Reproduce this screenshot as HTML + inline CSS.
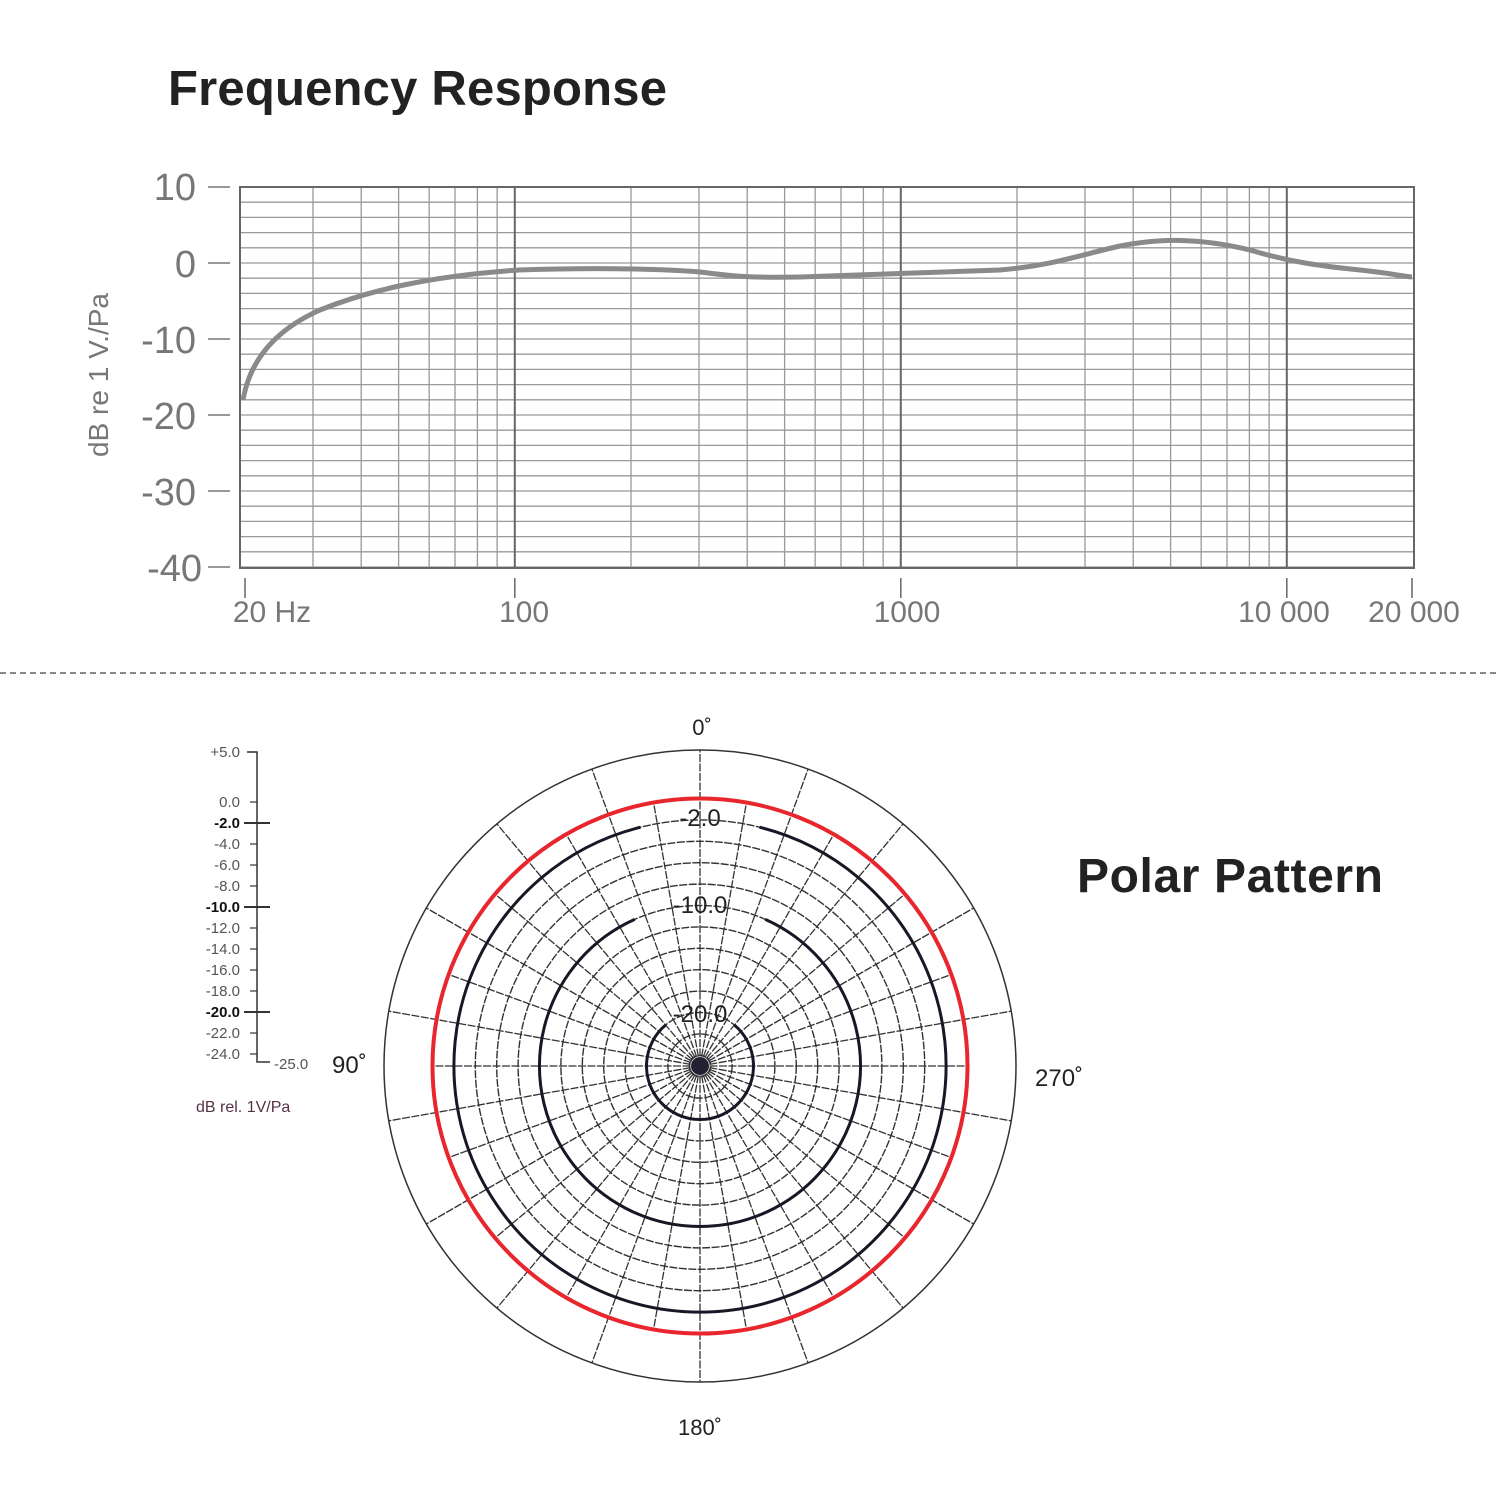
<!DOCTYPE html>
<html><head><meta charset="utf-8"><style>
html,body{margin:0;padding:0;background:#fff;}
svg{display:block}
</style></head><body>
<svg id="s" width="1500" height="1500" xmlns="http://www.w3.org/2000/svg" font-family="Liberation Sans, sans-serif">
<rect width="1500" height="1500" fill="#fff"/>
<text x="168" y="105" font-size="49" font-weight="bold" fill="#222" textLength="499">Frequency Response</text>
<g id="fr"></g>
<g fill="#777" font-size="38" text-anchor="end">
<text x="196" y="200">10</text><text x="196" y="277">0</text><text x="196" y="353">-10</text>
<text x="196" y="429">-20</text><text x="196" y="505">-30</text><text x="202" y="581">-40</text>
</g>
<text transform="translate(108,375) rotate(-90)" font-size="28" fill="#777" text-anchor="middle">dB re 1 V./Pa</text>
<g fill="#777" font-size="30" text-anchor="middle">
<text x="272" y="622">20 Hz</text><text x="524" y="622">100</text><text x="907" y="622">1000</text>
<text x="1284" y="622">10 000</text><text x="1414" y="622">20 000</text>
</g>
<line x1="0" y1="673" x2="1500" y2="673" stroke="#888" stroke-width="2" stroke-dasharray="6,4"/>
<text x="1077" y="892" font-size="48" font-weight="bold" fill="#222" textLength="306">Polar Pattern</text>
<g id="pp"></g>
<g id="sc"></g>
<g font-size="22" fill="#222" text-anchor="middle">
<text x="702" y="735">0˚</text><text x="700" y="1435">180˚</text>
</g>
<text x="1035" y="1086" font-size="24" fill="#222">270˚</text>
<text x="332" y="1073" font-size="24" fill="#222">90˚</text>
<text x="196" y="1112" font-size="16" fill="#534">dB rel. 1V/Pa</text>
</svg>
<script>
var NS="http://www.w3.org/2000/svg";
function el(p,t,a,txt){var e=document.createElementNS(NS,t);for(var k in a)e.setAttribute(k,a[k]);if(txt)e.textContent=txt;p.appendChild(e);return e;}
var fr=document.getElementById('fr');
var X0=245,D=386;function fx(f){return X0+Math.log10(f/20)*D;}
for(var i=0;i<=25;i++){var y=187+i*15.2;el(fr,'line',{x1:240,y1:y,x2:1414,y2:y,stroke:'#999','stroke-width':1.3});}
var fs=[30,40,50,60,70,80,90,200,300,400,500,600,700,800,900,2000,3000,4000,5000,6000,7000,8000,9000];
fs.forEach(function(f){var x=fx(f);el(fr,'line',{x1:x,y1:187,x2:x,y2:568,stroke:'#999','stroke-width':1.3});});
[100,1000,10000].forEach(function(f){var x=fx(f);el(fr,'line',{x1:x,y1:187,x2:x,y2:568,stroke:'#666','stroke-width':2});el(fr,'line',{x1:x,y1:578,x2:x,y2:598,stroke:'#666','stroke-width':1.5});});
el(fr,'rect',{x:240,y:187,width:1174,height:381,fill:'none',stroke:'#666','stroke-width':2});
el(fr,'line',{x1:245,y1:578,x2:245,y2:598,stroke:'#666','stroke-width':1.5});
el(fr,'line',{x1:1412,y1:578,x2:1412,y2:598,stroke:'#666','stroke-width':1.5});
for(var i=0;i<6;i++){var y=187+i*76;el(fr,'line',{x1:208,y1:y,x2:230,y2:y,stroke:'#777','stroke-width':1.5});}
el(fr,'path',{d:'M243,400 C250,360 275,330 320,310 C370,290 430,276 519,270 C580,268 650,268 700,272 C730,276 750,278 800,277 C860,275 900,273 1000,270 C1050,266 1080,255 1120,246 C1160,238 1200,238 1250,250 C1290,262 1320,266 1360,270 C1390,273 1400,276 1412,277',fill:'none',stroke:'#8a8a8a','stroke-width':5});
// polar
var pp=document.getElementById('pp'),cx=700,cy=1066;
function R(db){return (db+25)*10.7;}
el(pp,'circle',{cx:cx,cy:cy,r:316,fill:'none',stroke:'#333','stroke-width':1.5});
for(var d=-24;d<=0;d+=2){el(pp,'circle',{cx:cx,cy:cy,r:R(d),fill:'none',stroke:'#333','stroke-width':1.4,'stroke-dasharray':'8,1.5'});}
for(var a=0;a<360;a+=10){var t=a*Math.PI/180;var ro=(a%20==0)?316:R(0);
el(pp,'line',{x1:cx,y1:cy,x2:cx+ro*Math.sin(t),y2:cy-ro*Math.cos(t),stroke:'#333','stroke-width':1.3,'stroke-dasharray':'8,1.5'});}
el(pp,'circle',{cx:cx,cy:cy,r:R(0),fill:'none',stroke:'#e8262d','stroke-width':4});
function arc(r,gap){var g=gap*Math.PI/180;var x1=cx+r*Math.sin(g),y1=cy-r*Math.cos(g),x2=cx-r*Math.sin(g);
el(pp,'path',{d:'M'+x1+','+y1+' A'+r+','+r+' 0 1 1 '+x2+','+y1,fill:'none',stroke:'#1a1626','stroke-width':3});}
arc(R(-2),14);arc(R(-10),24);arc(R(-20),40);
el(pp,'text',{x:700,y:826,'font-size':24,'text-anchor':'middle',fill:'#222'},'-2.0');
el(pp,'text',{x:700,y:913,'font-size':24,'text-anchor':'middle',fill:'#222'},'-10.0');
el(pp,'text',{x:700,y:1022,'font-size':24,'text-anchor':'middle',fill:'#222'},'-20.0');
el(pp,'circle',{cx:cx,cy:cy,r:9,fill:'#223'});
// scale
var sc=document.getElementById('sc');
el(sc,'path',{d:'M247,752 H257 V1062 H270',fill:'none',stroke:'#333','stroke-width':1.5});
var labs=[['+5.0',752,0],['0.0',802,0]];
for(var v=-2;v>=-24;v-=2){labs.push(['-'+Math.abs(v).toFixed(1),802+(-v)*10.5,(v==-2||v==-10||v==-20)?1:0]);}
labs.forEach(function(l){el(sc,'text',{x:240,y:l[1]+5,'font-size':15,'text-anchor':'end',fill:l[2]?'#111':'#555','font-weight':l[2]?'bold':'normal'},l[0]);
el(sc,'line',{x1:l[2]?244:250,y1:l[1],x2:l[2]?270:257,y2:l[1],stroke:'#333','stroke-width':l[2]?2:1.2});});
el(sc,'text',{x:274,y:1069,'font-size':15,fill:'#555'},'-25.0');
</script>
</body></html>
